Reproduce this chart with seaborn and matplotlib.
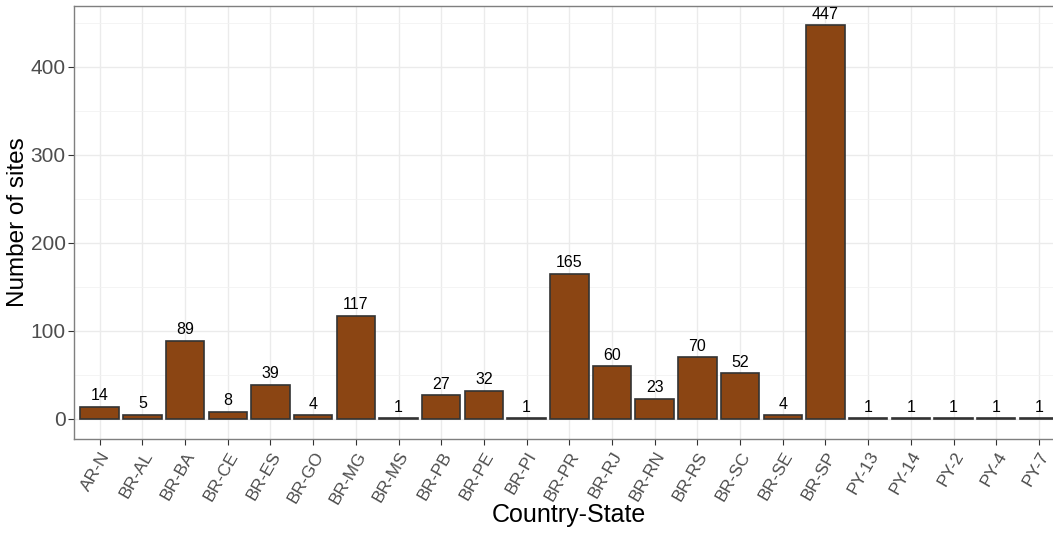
import matplotlib
matplotlib.use("Agg")
import matplotlib.pyplot as plt
import seaborn as sns
import pandas as pd
from matplotlib.ticker import MultipleLocator

categories = ["AR-N", "BR-AL", "BR-BA", "BR-CE", "BR-ES", "BR-GO", "BR-MG", "BR-MS",
              "BR-PB", "BR-PE", "BR-PI", "BR-PR", "BR-RJ", "BR-RN", "BR-RS", "BR-SC",
              "BR-SE", "BR-SP", "PY-13", "PY-14", "PY-2", "PY-4", "PY-7"]
counts = [14, 5, 89, 8, 39, 4, 117, 1, 27, 32, 1, 165, 60, 23, 70, 52, 4, 447, 1, 1, 1, 1, 1]

df = pd.DataFrame({"state": categories, "n": counts})

sns.set_style("white")
plt.rcParams['font.family'] = ['Liberation Sans', 'DejaVu Sans']

fig = plt.figure(figsize=(10.53, 5.33), dpi=100)
# panel extends slightly past the right edge, as in the reference
ax = fig.add_axes([0.0703, 0.177, 0.9407, 0.8123])

sns.barplot(data=df, x="state", y="n", color="#8B4513", saturation=1, width=0.9,
            edgecolor="#333333", linewidth=1.2, ax=ax, zorder=3)

for i, v in enumerate(counts):
    ax.text(i, v + 4, str(v), ha="center", va="bottom", fontsize=11.5, color="black", zorder=4)

ax.set_xlim(-0.6, len(categories) - 0.4)
ax.set_ylim(-22.35, 469.35)
ax.yaxis.set_major_locator(MultipleLocator(100))
ax.yaxis.set_minor_locator(MultipleLocator(50))
ax.grid(True, which="major", color="#EBEBEB", linewidth=1.0, zorder=0)
ax.grid(True, which="minor", axis="y", color="#F2F2F2", linewidth=0.6, zorder=0)
ax.set_axisbelow(True)

for s in ax.spines.values():
    s.set_visible(True)
    s.set_color("#7F7F7F")
    s.set_linewidth(1.0)

ax.tick_params(axis="both", which="major", length=4, color="#333333",
               labelcolor="#4D4D4D", bottom=True, left=True)
ax.tick_params(axis="x", labelsize=12.5)
ax.tick_params(axis="y", labelsize=15, pad=2)
ax.tick_params(axis="y", which="minor", length=0)
plt.setp(ax.get_xticklabels(), rotation=60, ha="right", rotation_mode="anchor")

ax.set_xlabel("Country-State", fontsize=18, color="black", va="center")
ax.set_ylabel("Number of sites", fontsize=17.5, color="black", va="center")
ax.xaxis.set_label_coords(0.5, -0.176)
ax.yaxis.set_label_coords(-0.057, 0.5)

fig.savefig("out.png", dpi=100)
